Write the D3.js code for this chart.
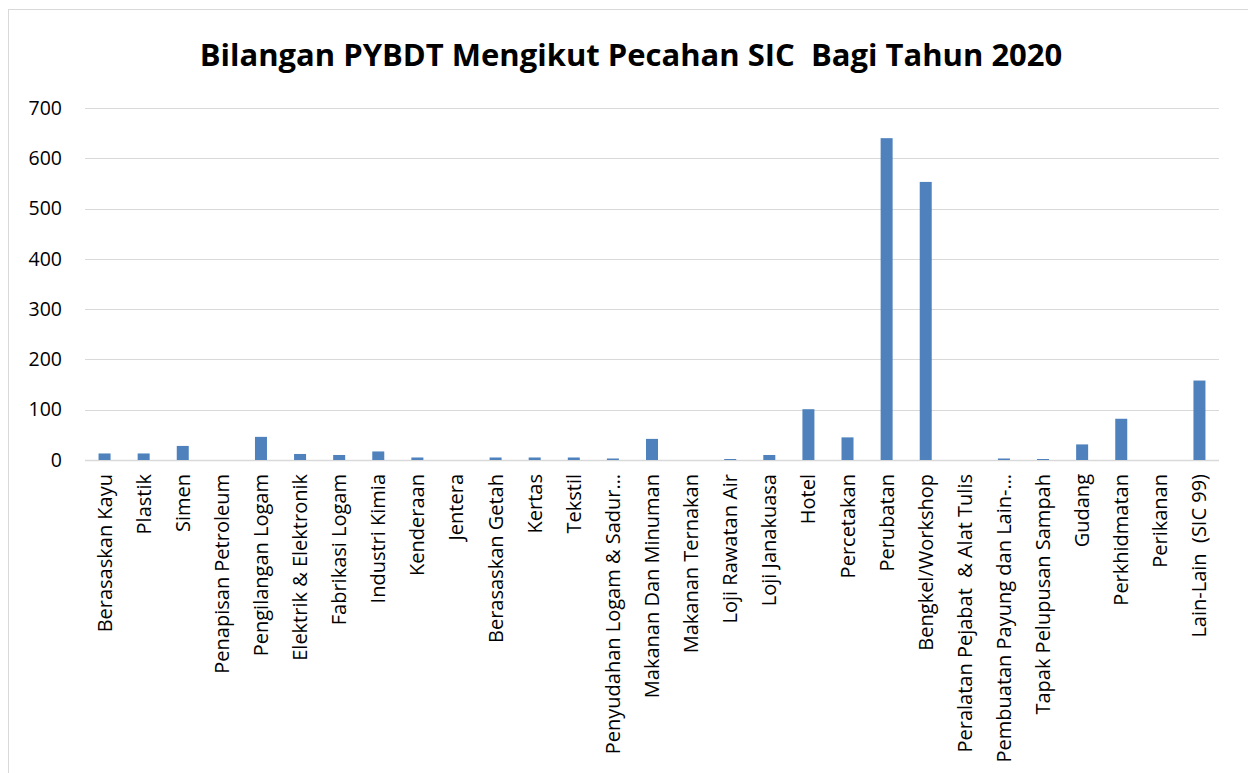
<!DOCTYPE html>
<style>
body { margin: 0; background: #fff; }
.axis .domain { display: none; }
.axis line { display: none; }
text { white-space: pre; }
</style>
<svg width="1248" height="773" id="chart"></svg>
<script src="https://d3js.org/d3.v7.min.js"></script>
<script>
var categories = ["Berasaskan Kayu", "Plastik", "Simen", "Penapisan Petroleum", "Pengilangan Logam",
  "Elektrik & Elektronik", "Fabrikasi Logam", "Industri Kimia", "Kenderaan", "Jentera",
  "Berasaskan Getah", "Kertas", "Tekstil", "Penyudahan Logam & Sadur\u2026", "Makanan Dan Minuman",
  "Makanan Ternakan", "Loji Rawatan Air", "Loji Janakuasa", "Hotel", "Percetakan",
  "Perubatan", "Bengkel/Workshop", "Peralatan Pejabat  & Alat Tulis", "Pembuatan Payung dan Lain-\u2026",
  "Tapak Pelupusan Sampah", "Gudang", "Perkhidmatan", "Perikanan", "Lain-Lain  (SIC 99)"];
var counts = [13, 13, 28, 0, 46, 12, 10, 17, 5, 0,
  5, 5, 5, 3, 42, 0, 2, 10, 101, 45,
  640, 553, 0, 3, 2, 31, 82, 0, 158];
var yTicks = [0, 100, 200, 300, 400, 500, 600, 700];
var title = "Bilangan PYBDT Mengikut Pecahan SIC  Bagi Tahun 2020";

var svg = d3.select("#chart"),
    margin = {top: 108, right: 29, bottom: 313, left: 85},
    width = +svg.attr("width") - margin.left - margin.right,
    height = +svg.attr("height") - margin.top - margin.bottom;

// chart frame
svg.append("rect")
    .attr("x", 8.5).attr("y", 9.5)
    .attr("width", 1260).attr("height", 800)
    .attr("fill", "none")
    .attr("stroke", "#d9d9d9");

svg.append("text")
    .attr("x", 631)
    .attr("y", 66)
    .attr("text-anchor", "middle")
    .attr("font-family", "'Open Sans', sans-serif")
    .attr("font-weight", "bold")
    .attr("font-size", 31)
    .attr("fill", "#000")
    .text(title);

var g = svg.append("g").attr("transform", "translate(" + margin.left + "," + margin.top + ")");

var x = d3.scaleBand().domain(categories).range([0, width]);
var y = d3.scaleLinear().domain([0, 700]).range([height, 0]);

g.append("g")
  .selectAll("line").data(yTicks)
  .enter().append("line")
    .attr("x1", 0).attr("x2", width)
    .attr("y1", function(d) { return Math.round(y(d)) + 0.5; })
    .attr("y2", function(d) { return Math.round(y(d)) + 0.5; })
    .attr("stroke", "#d9d9d9")
    .attr("stroke-width", function(d) { return d === 0 ? 1.5 : 1; });

var bw = 12;
g.append("g")
  .selectAll("rect").data(categories)
  .enter().append("rect")
    .attr("x", function(d) { return x(d) + x.bandwidth() / 2 - bw / 2; })
    .attr("y", function(d, i) { return y(counts[i]); })
    .attr("width", bw)
    .attr("height", function(d, i) { return height - y(counts[i]); })
    .attr("fill", "#4f81bd");

g.append("g")
    .attr("class", "axis")
    .call(d3.axisLeft(y).tickValues(yTicks).tickSize(0).tickPadding(23))
    .attr("font-family", "'Open Sans', sans-serif")
    .attr("font-size", 19.5)
  .selectAll("text").attr("fill", "#000");

g.append("g")
    .attr("class", "axis")
    .attr("transform", "translate(0," + height + ")")
    .call(d3.axisBottom(x).tickSize(0))
    .attr("font-family", "'Open Sans', sans-serif")
    .attr("font-size", 20)
  .selectAll("text")
    .attr("fill", "#000")
    .attr("text-anchor", "end")
    .attr("dy", "0.35em")
    .attr("transform", "translate(0,14) rotate(-90)")
    .attr("x", 0).attr("y", 0);
</script>
